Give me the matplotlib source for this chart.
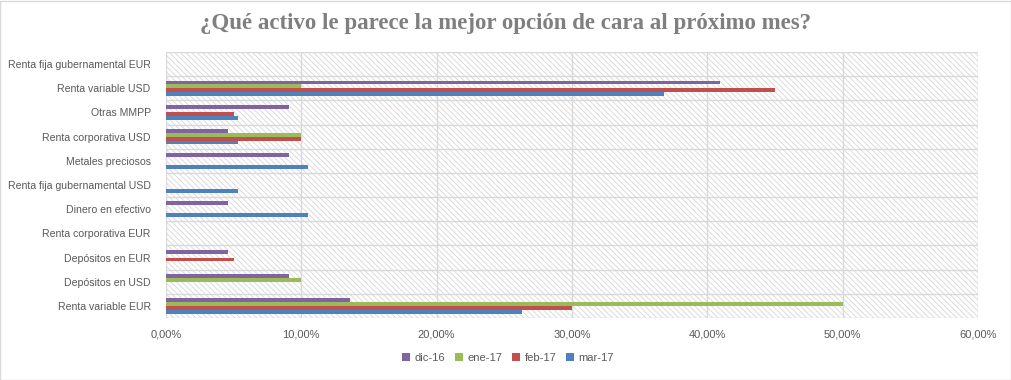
import matplotlib
matplotlib.use("Agg")
import matplotlib.pyplot as plt
from matplotlib.patches import Rectangle
from matplotlib.ticker import FuncFormatter
import numpy as np

categories = [
    "Renta fija gubernamental EUR",
    "Renta variable USD",
    "Otras MMPP",
    "Renta corporativa USD",
    "Metales preciosos",
    "Renta fija gubernamental USD",
    "Dinero en efectivo",
    "Renta corporativa EUR",
    "Depósitos en EUR",
    "Depósitos en USD",
    "Renta variable EUR",
]
series_names = ["dic-16", "ene-17", "feb-17", "mar-17"]
dic16 = [0.0, 40.9, 9.1, 4.6, 9.1, 0.0, 4.6, 0.0, 4.6, 9.1, 13.6]
ene17 = [0.0, 10.0, 0.0, 10.0, 0.0, 0.0, 0.0, 0.0, 0.0, 10.0, 50.0]
feb17 = [0.0, 45.0, 5.0, 10.0, 0.0, 0.0, 0.0, 0.0, 5.0, 0.0, 30.0]
mar17 = [0.0, 36.8, 5.3, 5.3, 10.5, 5.3, 10.5, 0.0, 0.0, 0.0, 26.3]
series = [dic16, ene17, feb17, mar17]
colors = ["#8064A2", "#9BBB59", "#C0504D", "#4F81BD"]

plt.rcParams['font.family'] = ['Liberation Sans', 'DejaVu Sans']
plt.rcParams['hatch.linewidth'] = 0.6

fig = plt.figure(figsize=(10.12, 3.8), dpi=100)
ax = fig.add_axes([166/1012, 1-318/380, (978-166)/1012, (318-52)/380])

n = len(categories)
ypos = np.arange(n)  # 0 at top after inversion
bh = 0.16
offsets = [-1.5*bh, -0.5*bh, 0.5*bh, 1.5*bh]
for vals, c, off, name in zip(series, colors, offsets, series_names):
    ax.barh(ypos + off, vals, height=bh, color=c, label=name, zorder=3)

ax.set_ylim(n - 0.5, -0.5)
ax.set_xlim(0, 60)
ax.set_xticks(np.arange(0, 61, 10))
ax.xaxis.set_major_formatter(FuncFormatter(lambda v, p: f"{v:.2f}%".replace(".", ",")))
ax.set_yticks(ypos)
ax.set_yticklabels(categories)
ax.tick_params(axis='x', length=0, labelsize=8, colors='#595959', pad=8)
ax.tick_params(axis='y', length=0, labelsize=7.6, colors='#595959', pad=11)

# background hatch
ax.add_patch(Rectangle((0, 0), 1, 1, transform=ax.transAxes, facecolor='white',
                       edgecolor='#D6D6D6', hatch='\\\\\\\\\\\\', lw=0, zorder=0))
# grid lines
for x in np.arange(0, 61, 10):
    ax.axvline(x, color='#D9D9D9', lw=1, zorder=1)
for y in np.arange(-0.5, n, 1.0):
    ax.axhline(y, color='#D9D9D9', lw=1, zorder=1)
for s in ax.spines.values():
    s.set_visible(False)

fig.text(506/1012, 1-24/380, "¿Qué activo le parece la mejor opción de cara al próximo mes?",
         ha='center', va='center', fontsize=16.5, fontweight='bold', color='#7F7F7F',
         family=['Liberation Serif', 'DejaVu Serif'])

leg = fig.legend(loc='center', bbox_to_anchor=(508/1012, 1-358/380), ncol=4, frameon=False,
                 fontsize=8, handlelength=0.7, handleheight=0.7, handletextpad=0.4,
                 columnspacing=0.9)
for t in leg.get_texts():
    t.set_color('#595959')

fig.patches.append(Rectangle((0.5/1012, 0.5/380), 1-1/1012, 1-1/380, transform=fig.transFigure,
                             fill=False, edgecolor='#D9D9D9', lw=1))

fig.savefig("out.png", dpi=100, facecolor='white')
